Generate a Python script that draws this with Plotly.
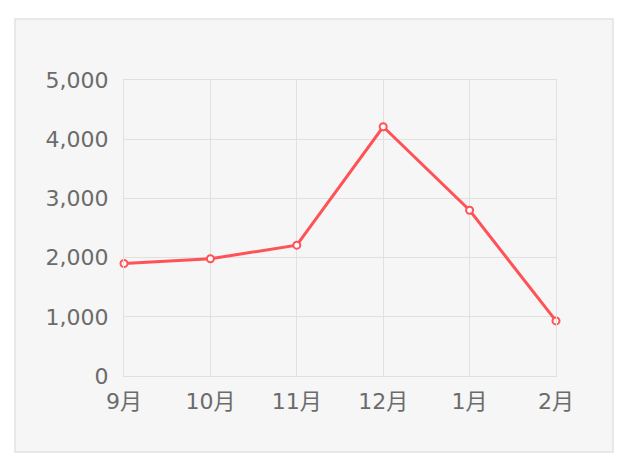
import plotly.graph_objects as go

# monthly values
months = ['9月', '10月', '11月', '12月', '1月', '2月']
values = [1900, 1980, 2210, 4210, 2800, 930]

# Constants (page body keeps an 8px margin, so the figure is 16px smaller)
body = 8
img_width = 628 - 2 * body
img_height = 470 - 2 * body
m_l, m_r, m_t, m_b = 116, 64, 72, 86
plot_w = img_width - m_l - m_r
plot_h = img_height - m_t - m_b

line_color = '#ff5257'
grid_color = '#e0e0e0'
text_color = '#6b6b6b'
font_family = 'DejaVu Sans, Noto Sans CJK SC, sans-serif'

fig = go.Figure()
fig.add_trace(go.Scatter(
    x=months, y=values,
    mode='lines+markers',
    cliponaxis=False,
    line=dict(color=line_color, width=3),
    marker=dict(size=7, color='white', line=dict(color=line_color, width=2)),
    showlegend=False))

"""$$$$$$$$$$$$$$$ FORMATTING $$$$$$$$$$$$$$$$"""
# grey card behind the chart (window box 15..613 x 19..452)
box_l, box_r, box_t, box_b = 15 - body, 613 - body, 19 - body, 452 - body
fig.add_shape(
    type='rect', xref='paper', yref='paper', layer='below',
    x0=(box_l - m_l) / plot_w, x1=(box_r - m_l) / plot_w,
    y0=(img_height - m_b - box_b) / plot_h, y1=(img_height - m_b - box_t) / plot_h,
    fillcolor='#f6f6f6', line=dict(color='#e2e2e2', width=1.5))

fig.update_xaxes(
    type='category',
    range=[0, len(months) - 1],
    showgrid=True, gridcolor=grid_color, gridwidth=1,
    showline=True, linecolor=grid_color, linewidth=1, mirror=True,
    ticks='', ticklabelstandoff=6,
    tickfont=dict(size=22, color=text_color, family=font_family))
fig.update_yaxes(
    range=[0, 5000], dtick=1000, tickformat=',',
    showgrid=True, gridcolor=grid_color, gridwidth=1,
    zeroline=False,
    showline=True, linecolor=grid_color, linewidth=1, mirror=True,
    ticks='', ticklabelstandoff=10,
    tickfont=dict(size=22, color=text_color, family=font_family))
fig.update_layout(
    width=img_width, height=img_height,
    margin=dict(l=m_l, r=m_r, t=m_t, b=m_b),
    paper_bgcolor='white',
    plot_bgcolor='rgba(0,0,0,0)',
    font=dict(family=font_family))

fig.write_html("out.html")
